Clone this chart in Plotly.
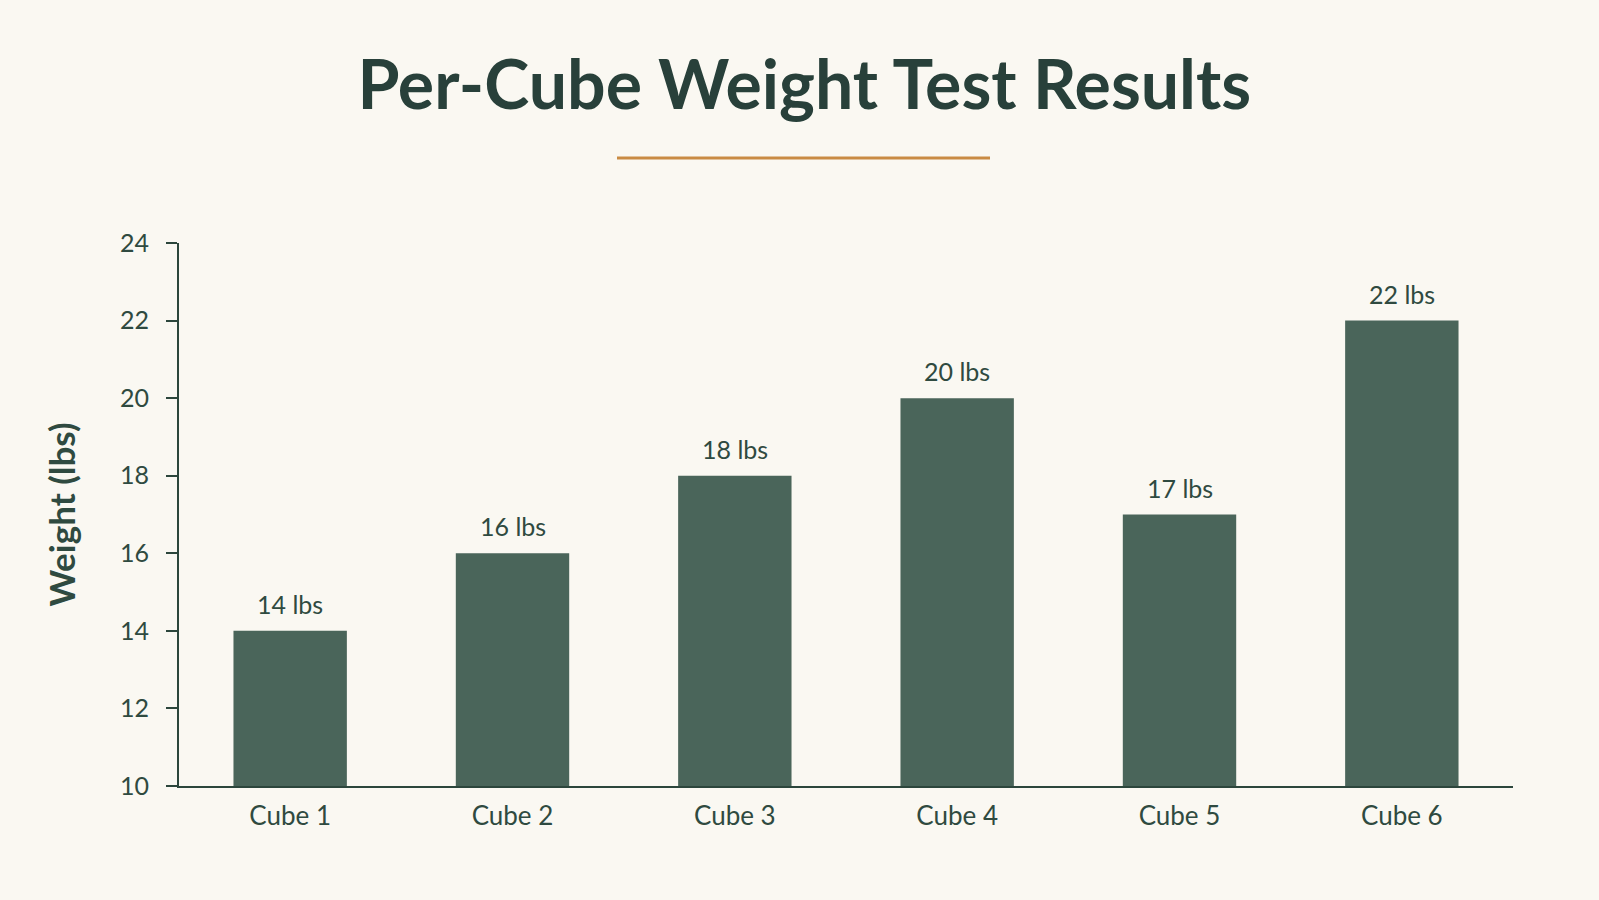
import plotly.graph_objects as go

categories = ["Cube 1", "Cube 2", "Cube 3", "Cube 4", "Cube 5", "Cube 6"]
weights = [14, 16, 18, 20, 17, 22]
y_ticks = [10, 12, 14, 16, 18, 20, 22, 24]

BG = "#FAF8F2"
BAR = "#4A655A"
DARK = "#2C463C"
TEXT = "#2F4A40"
ACCENT = "#C98B44"
FONT = "Lato"

fig = go.Figure()
fig.add_trace(go.Bar(
    x=categories,
    y=weights,
    marker=dict(color=BAR, line=dict(width=0)),
    hoverinfo="skip",
))

for c, w in zip(categories, weights):
    fig.add_annotation(
        x=c, y=w, xref="x", yref="y",
        text=f"{w} lbs",
        showarrow=False,
        yanchor="bottom",
        yshift=10,
        font=dict(family=FONT, size=25, color=TEXT),
    )

fig.update_layout(
    width=1599,
    height=900,
    paper_bgcolor=BG,
    plot_bgcolor=BG,
    margin=dict(l=179, r=86, t=243, b=114),
    bargap=0.49,
    showlegend=False,
    title=dict(
        text="<b>Per-Cube Weight Test Results</b>",
        font=dict(family=FONT, size=68, color="#28403A"),
        x=0.503,
        xanchor="center",
        xref="container",
        yref="container",
        y=0.905,
        yanchor="middle",
    ),
    xaxis=dict(
        showline=True,
        linecolor=DARK,
        linewidth=2,
        ticks="",
        showgrid=False,
        tickfont=dict(family=FONT, size=26, color=TEXT),
        range=[-0.5, 5.5],
        ticklabelstandoff=6,
    ),
    yaxis=dict(
        range=[10, 24],
        tickvals=y_ticks,
        showline=True,
        linecolor=DARK,
        linewidth=2,
        ticks="outside",
        ticklen=11,
        tickwidth=2,
        tickcolor=DARK,
        showgrid=False,
        zeroline=False,
        tickfont=dict(family=FONT, size=25, color=TEXT),
        ticklabelstandoff=12,
        title=dict(
            text="<b>Weight (lbs)</b>",
            font=dict(family=FONT, size=35, color=TEXT),
            standoff=34,
        ),
    ),
    shapes=[
        dict(
            type="line",
            xref="paper",
            yref="paper",
            x0=(617 - 179) / 1334,
            x1=(990 - 179) / 1334,
            y0=1.1565,
            y1=1.1565,
            line=dict(color=ACCENT, width=3),
        )
    ],
)

fig.write_html("out.html")
